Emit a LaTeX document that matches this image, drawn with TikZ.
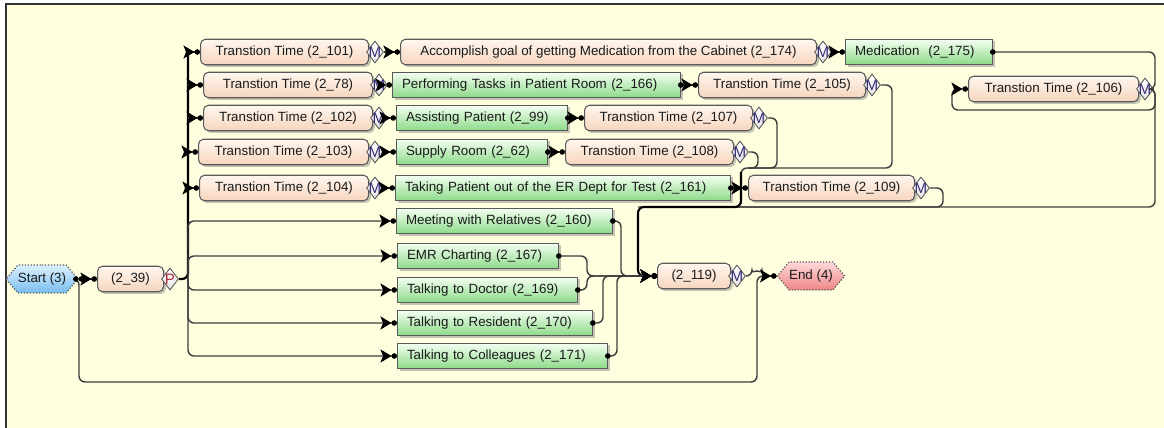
\documentclass[tikz,border=0pt]{standalone}
\usepackage{fontspec}
\setmainfont{Liberation Sans}
\usetikzlibrary{arrows.meta,shapes.geometric,shapes.symbols,shadows}
\definecolor{ink}{HTML}{1A1A1A}
\definecolor{wire}{HTML}{3C3C3C}
\definecolor{paper}{HTML}{FFFFE0}
\definecolor{edge}{HTML}{5A5A5A}
\definecolor{peachtop}{HTML}{FFF7F0}
\definecolor{peachbot}{HTML}{F6D5BD}
\definecolor{leaftop}{HTML}{F4FFF2}
\definecolor{leafbot}{HTML}{8CDA88}
\definecolor{skytop}{HTML}{DDF0FF}
\definecolor{skybot}{HTML}{78BEF0}
\definecolor{rosetop}{HTML}{FFD8D8}
\definecolor{rosebot}{HTML}{EE8686}
\definecolor{mark}{HTML}{3A2A78}
\definecolor{pmark}{HTML}{B02838}
\newcommand\gm[1]{\makebox[0pt]{#1}}

\begin{document}
\begin{tikzpicture}[x=0.02cm, y=-0.02cm,
    font=\fontsize{7.6}{9}\selectfont, text=ink,
    wd/.style={minimum width=#1*0.02cm},
    tw/.style={text width=(#1-19)*0.02cm},
    box/.style={draw=edge, line width=0.6pt, minimum height=0.51cm, inner xsep=0pt, anchor=west,
      drop shadow={shadow xshift=0.045cm, shadow yshift=-0.045cm, opacity=0.45}},
    trans/.style={box, rounded corners=0.1cm, top color=peachtop, bottom color=peachbot},
    task/.style={box, top color=leaftop, bottom color=leafbot, align=left, inner xsep=0.19cm},
    term/.style={signal, signal to=west and east, signal pointer angle=100, draw=edge,
      densely dotted, line width=0.7pt, minimum height=0.56cm, inner xsep=0pt},
    gate/.style={diamond, draw=edge, line width=0.5pt, top color=white, bottom color=black!10,
      minimum width=0.34cm, minimum height=0.44cm, inner sep=0pt, anchor=west, text=mark,
      font=\fontsize{8.6}{9}\selectfont},
    link/.style={draw=wire, line width=0.8pt, rounded corners=0.12cm},
    heavy/.style={draw=black, line width=1.2pt, rounded corners=0.12cm},
    flow/.style={-{Stealth[length=0.22cm,width=0.26cm,inset=0.05cm,black]Circle[length=0.11cm,black]}},
    fromdot/.style={{Circle[length=0.11cm,black]}-{Stealth[length=0.22cm,width=0.26cm,inset=0.05cm,black]Circle[length=0.11cm,black]}},
    trunk/.style={draw=black, line width=1.3pt, rounded corners=0.12cm}]
  % page and frame
  \path[use as bounding box] (0,0) rectangle (1164,428);
  \fill[paper] (6,4) rectangle (1164,428);
  \draw[black!80, line width=1.1pt] (6,428) -- (6,4) -- (1164,4);

  % ================= nodes =================
  \node[term, top color=skytop, bottom color=skybot, wd=70] (start) at (42,279) {Start (3)};
  \node[trans, wd=66] (p39) at (97,279) {(2\_39)};
  \node[gate, text=pmark] (p39m) at ([xshift=-0.06cm]p39.east) {\gm{P}};

  % left column of transitions
  \node[trans, wd=168] (t101) at (200,52) {Transtion Time (2\_101)};
  \node[trans, wd=169] (t78)  at (203,85) {Transtion Time (2\_78)};
  \node[trans, wd=169] (t102) at (203,118) {Transtion Time (2\_102)};
  \node[trans, wd=170] (t103) at (198,152) {Transtion Time (2\_103)};
  \node[trans, wd=169] (t104) at (199,188) {Transtion Time (2\_104)};
  \foreach \n in {t101,t78,t102,t103,t104}
    \node[gate] (\n m) at ([xshift=-0.06cm]\n.east) {\gm{M}};

  % tasks
  \node[trans, wd=416] (t174) at (400,52) {Accomplish goal of getting Medication from the Cabinet (2\_174)};
  \node[gate] (t174m) at ([xshift=-0.06cm]t174.east) {\gm{M}};
  \node[task, tw=147] (g175) at (845,52) {Medication\ \ (2\_175)};
  \node[task, tw=288] (g166) at (392,85) {Performing Tasks in Patient Room (2\_166)};
  \node[task, tw=171] (g99)  at (396,118) {Assisting Patient (2\_99)};
  \node[task, tw=151] (g62)  at (396,152) {Supply Room (2\_62)};
  \node[task, tw=335] (g161) at (395,188) {Taking Patient out of the ER Dept for Test (2\_161)};
  \node[task, tw=216] (g160) at (396,221) {Meeting with Relatives (2\_160)};
  \node[task, tw=161] (g167) at (397,256) {EMR Charting (2\_167)};
  \node[task, tw=180] (g169) at (397,290) {Talking to Doctor (2\_169)};
  \node[task, tw=195] (g170) at (397,323) {Talking to Resident (2\_170)};
  \node[task, tw=210] (g171) at (397,356) {Talking to Colleagues (2\_171)};

  % right-hand transitions
  \node[trans, wd=167] (t105) at (698,85) {Transtion Time (2\_105)};
  \node[trans, wd=168] (t107) at (584,118) {Transtion Time (2\_107)};
  \node[trans, wd=168] (t108) at (565,152) {Transtion Time (2\_108)};
  \node[trans, wd=166] (t109) at (748,188) {Transtion Time (2\_109)};
  \node[trans, wd=170] (t106) at (968,89) {Transtion Time (2\_106)};
  \foreach \n in {t105,t107,t108,t109,t106}
    \node[gate] (\n m) at ([xshift=-0.06cm]\n.east) {\gm{M}};

  % merge and end
  \node[trans, wd=73] (j119) at (657,276) {(2\_119)};
  \node[gate] (j119m) at ([xshift=-0.06cm]j119.east) {\gm{M}};
  \node[term, top color=rosetop, bottom color=rosebot, wd=64] (end) at (811,276) {End (4)};

  % ================= connectors =================
  \draw[link, fromdot] (start.east) -- (p39.west);
  \draw[link, {Circle[length=0.11cm,black]}-] (start.east) -- (79,279) -- (79,382) -- (757,382) -- (757,276) -- (end.west);

  % split of (2_39)
  \coordinate (bus) at (188,279);
  \draw[trunk] (p39m.east) -- (bus) -- (188,52);
  \foreach \n in {t101,t78,t102,t103,t104}
    \draw[link, flow] (bus |- \n.west) -- (\n.west);
  \foreach \n in {g160,g167,g169,g170,g171}
    \draw[link, flow] (bus) |- (\n.west);

  % straight chains
  \draw[link, flow] (t101m.east) -- (t174.west);
  \draw[link, flow] (t174m.east) -- (g175.west);
  \foreach \a/\b in {t78m/g166, t102m/g99, t103m/g62, t104m/g161}
    \draw[link, flow] (\a.east) -- (\b.west);
  \foreach \a/\b in {g166/t105, g99/t107, g62/t108, g161/t109}
    \draw[link, fromdot] ([xshift=-0.06cm]\a.east) -- (\b.west);

  % medication loop on (2_106)
  \draw[link, {Circle[length=0.11cm,black]}-] ([xshift=-0.06cm]g175.east) -- (1155,52) -- (1155,89) -- (t106m.east);
  \draw[link, flow] (t106m.east) -- (1155,89) -- (1155,110) -- (952,110) -- (952,89) -- (t106.west);

  % returns into (2_119)
  \coordinate (fall) at (741,172);
  \draw[link] (t107m.east) -- (777,118) -- (777,168) -- (748,168);
  \draw[link] (t108m.east) -- (758,152) -- (758,168) -- (748,168);
  \draw[link] (t105m.east) -- (892,85) -- (892,168) -- (741,168) -- (741,207) -- (638,207);
  \draw[link] (t109m.east) -- (943,188) -- (943,207) -- (700,207);
  \draw[link] (t106m.east) -- (1155,89) -- (1155,207) -- (700,207);
  \draw[heavy, flow] (fall) -- (741,207) -- (638,207) -- (638,276) -- (j119.west);
  \draw[link, fromdot] ([xshift=-0.06cm]g160.east) -- (621,221) -- (621,276) -- (j119.west);
  \draw[link, fromdot] ([xshift=-0.06cm]g167.east) -- (587,256) -- (587,276) -- (j119.west);
  \draw[link, fromdot] ([xshift=-0.06cm]g169.east) -- (587,290) -- (587,276) -- (j119.west);
  \draw[link, fromdot] ([xshift=-0.06cm]g170.east) -- (603,323) -- (603,276) -- (j119.west);
  \draw[link, fromdot] ([xshift=-0.06cm]g171.east) -- (617,356) -- (617,276) -- (j119.west);

  % (2_119) to the end, hopping over the return line
  \draw[link, flow] (j119m.east) -- (752,276) arc[start angle=180, end angle=0, radius=0.1cm] -- (end.west);
\end{tikzpicture}
\end{document}
